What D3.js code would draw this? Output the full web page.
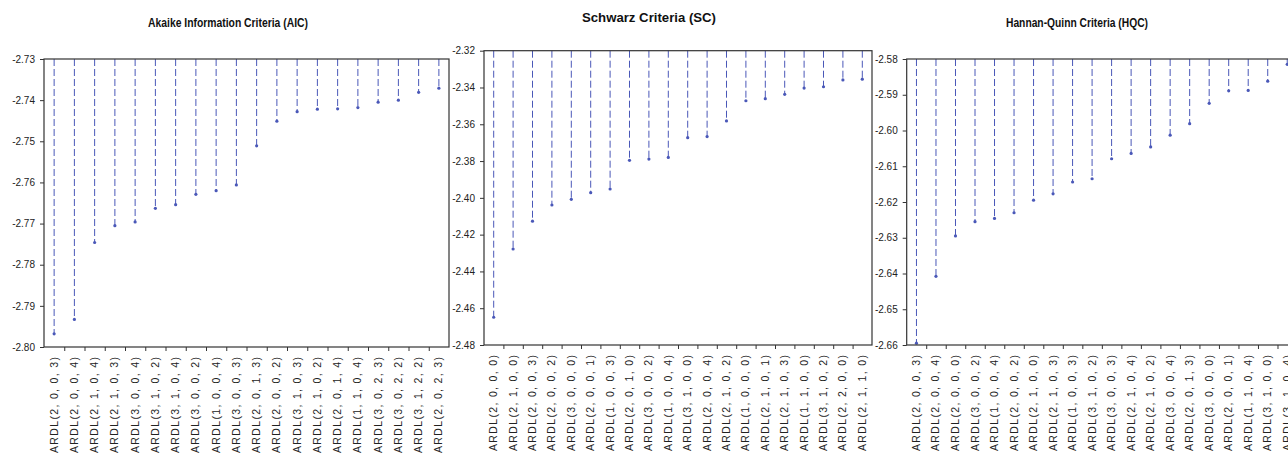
<!DOCTYPE html>
<html lang="en">
<head>
<meta charset="UTF-8">
<title>ARDL model selection criteria</title>
<script src="https://d3js.org/d3.v7.min.js"></script>
<style>
    body { margin: 0; background: #fff; }
    svg { display: block; font-family: "Liberation Sans", Arial, sans-serif; }
    .tick text { font-size: 10px; fill: #222; }
    .tick line { stroke: #333; }
    .domain { stroke: none; }
    .frame { fill: none; stroke: #333; stroke-width: 1.2; }
    .stem { stroke: #4a58b8; stroke-width: 1; stroke-dasharray: 7,3; }
    .dot { fill: #4a58b8; }
    .title { font-size: 12px; font-weight: bold; fill: #111; text-anchor: middle; }
    .cat { font-size: 10.5px; fill: #222; }
</style>
</head>
<body>
<div id="chart"></div>
<script>
// Akaike
const aicLabels = ["ARDL(2, 0, 0, 3)", "ARDL(2, 0, 0, 4)", "ARDL(2, 1, 0, 4)", "ARDL(2, 1, 0, 3)", "ARDL(3, 0, 0, 4)",
    "ARDL(3, 1, 0, 2)", "ARDL(3, 1, 0, 4)", "ARDL(3, 0, 0, 2)", "ARDL(1, 0, 0, 4)", "ARDL(3, 0, 0, 3)",
    "ARDL(2, 0, 1, 3)", "ARDL(2, 0, 0, 2)", "ARDL(3, 1, 0, 3)", "ARDL(2, 1, 0, 2)", "ARDL(2, 0, 1, 4)",
    "ARDL(1, 1, 0, 4)", "ARDL(3, 0, 2, 3)", "ARDL(3, 0, 2, 2)", "ARDL(3, 1, 2, 2)", "ARDL(2, 0, 2, 3)"];
const aicValues = [-2.7968, -2.7933, -2.7746, -2.7705, -2.7696, -2.7663, -2.7654, -2.7629, -2.7620, -2.7606,
    -2.7511, -2.7451, -2.7428, -2.7422, -2.7421, -2.7418, -2.7405, -2.7400, -2.7381, -2.7371];
const aicTicks = [-2.80, -2.79, -2.78, -2.77, -2.76, -2.75, -2.74, -2.73];

// Schwarz
const scLabels = ["ARDL(2, 0, 0, 0)", "ARDL(2, 1, 0, 0)", "ARDL(2, 0, 0, 3)", "ARDL(2, 0, 0, 2)", "ARDL(3, 0, 0, 0)",
    "ARDL(2, 0, 0, 1)", "ARDL(1, 0, 0, 3)", "ARDL(2, 0, 1, 0)", "ARDL(3, 0, 0, 2)", "ARDL(1, 0, 0, 4)",
    "ARDL(3, 1, 0, 0)", "ARDL(2, 0, 0, 4)", "ARDL(2, 1, 0, 2)", "ARDL(1, 0, 0, 0)", "ARDL(2, 1, 0, 1)",
    "ARDL(2, 1, 0, 3)", "ARDL(1, 1, 0, 0)", "ARDL(3, 1, 0, 2)", "ARDL(2, 2, 0, 0)", "ARDL(2, 1, 1, 0)"];
const scValues = [-2.4649, -2.4278, -2.4127, -2.4039, -2.4008, -2.3972, -2.3952, -2.3796, -2.3789, -2.3780,
    -2.3673, -2.3667, -2.3582, -2.3472, -2.3461, -2.3437, -2.3403, -2.3396, -2.3359, -2.3355];
const scTicks = [-2.48, -2.46, -2.44, -2.42, -2.40, -2.38, -2.36, -2.34, -2.32];

// Hannan-Quinn
const hqcLabels = ["ARDL(2, 0, 0, 3)", "ARDL(2, 0, 0, 4)", "ARDL(2, 0, 0, 0)", "ARDL(3, 0, 0, 2)", "ARDL(1, 0, 0, 4)",
    "ARDL(2, 0, 0, 2)", "ARDL(2, 1, 0, 0)", "ARDL(2, 1, 0, 3)", "ARDL(1, 0, 0, 3)", "ARDL(3, 1, 0, 2)",
    "ARDL(3, 0, 0, 3)", "ARDL(2, 1, 0, 4)", "ARDL(2, 1, 0, 2)", "ARDL(3, 0, 0, 4)", "ARDL(2, 0, 1, 3)",
    "ARDL(3, 0, 0, 0)", "ARDL(2, 0, 0, 1)", "ARDL(1, 1, 0, 4)", "ARDL(3, 1, 0, 0)", "ARDL(3, 1, 0, 4)"];
const hqcValues = [-2.6595, -2.6408, -2.6295, -2.6255, -2.6246, -2.6230, -2.6195, -2.6177, -2.6144, -2.6135,
    -2.6079, -2.6064, -2.6046, -2.6013, -2.5981, -2.5924, -2.5889, -2.5888, -2.5862, -2.5815];
const hqcTicks = [-2.66, -2.65, -2.64, -2.63, -2.62, -2.61, -2.60, -2.59, -2.58];

const width = 1288, height = 457;

// guion normal en vez del signo menos unicode
const fmt = d3.formatLocale({ decimal: ".", thousands: ",", grouping: [3], currency: ["", ""], minus: "-" }).format(".2f");

const svg = d3.select("#chart").append("svg")
    .attr("width", width)
    .attr("height", height);

const panels = [
    { title: "Akaike Information Criteria (AIC)", titleX: 228, titleY: 27, titleW: 160,
      labels: aicLabels, values: aicValues, ticks: aicTicks,
      left: 44, right: 449, top: 59, bottom: 347 },
    { title: "Schwarz Criteria (SC)", titleX: 649, titleY: 22, titleW: 134,
      labels: scLabels, values: scValues, ticks: scTicks,
      left: 484, right: 872, top: 50.7, bottom: 345 },
    { title: "Hannan-Quinn Criteria (HQC)", titleX: 1077, titleY: 27, titleW: 142,
      labels: hqcLabels, values: hqcValues, ticks: hqcTicks,
      left: 906.7, right: 1297, top: 59, bottom: 345 }
];

panels.forEach(p => {
    const g = svg.append("g");

    const x = d3.scaleBand()
        .domain(p.labels)
        .range([p.left, p.right]);

    const y = d3.scaleLinear()
        .domain([p.ticks[0], p.ticks[p.ticks.length - 1]])
        .range([p.bottom, p.top]);

    // titulo
    g.append("text")
        .attr("class", "title")
        .attr("x", p.titleX)
        .attr("y", p.titleY)
        .attr("textLength", p.titleW)
        .attr("lengthAdjust", "spacingAndGlyphs")
        .text(p.title);

    // eje vertical
    g.append("g")
        .attr("transform", `translate(${p.left},0)`)
        .call(d3.axisLeft(y).tickValues(p.ticks).tickFormat(fmt).tickSize(4).tickPadding(5));

    // marcas inferiores entre categorias
    const xi = d3.scaleLinear().domain([0, p.labels.length]).range([p.left, p.right]);
    g.append("g")
        .attr("transform", `translate(0,${p.bottom})`)
        .call(d3.axisBottom(xi).tickValues(d3.range(1, p.labels.length)).tickFormat("").tickSize(4));

    // etiquetas de categoria
    g.selectAll(".cat")
        .data(p.labels)
        .enter()
        .append("text")
        .attr("class", "cat")
        .attr("transform", d => `translate(${x(d) + x.bandwidth() / 2 + 3.5},${p.bottom + 10}) rotate(-90)`)
        .attr("text-anchor", "end")
        .attr("textLength", 96)
        .attr("lengthAdjust", "spacing")
        .text(d => d);

    // lineas punteadas desde arriba
    g.selectAll(".stem")
        .data(p.values)
        .enter()
        .append("line")
        .attr("class", "stem")
        .attr("x1", (d, i) => x(p.labels[i]) + x.bandwidth() / 2)
        .attr("x2", (d, i) => x(p.labels[i]) + x.bandwidth() / 2)
        .attr("y1", p.top)
        .attr("y2", d => y(d));

    g.selectAll(".dot")
        .data(p.values)
        .enter()
        .append("circle")
        .attr("class", "dot")
        .attr("cx", (d, i) => x(p.labels[i]) + x.bandwidth() / 2)
        .attr("cy", d => y(d))
        .attr("r", 1.6);

    // marco
    g.append("rect")
        .attr("class", "frame")
        .attr("x", p.left)
        .attr("y", p.top)
        .attr("width", p.right - p.left)
        .attr("height", p.bottom - p.top);
});
</script>
</body>
</html>
